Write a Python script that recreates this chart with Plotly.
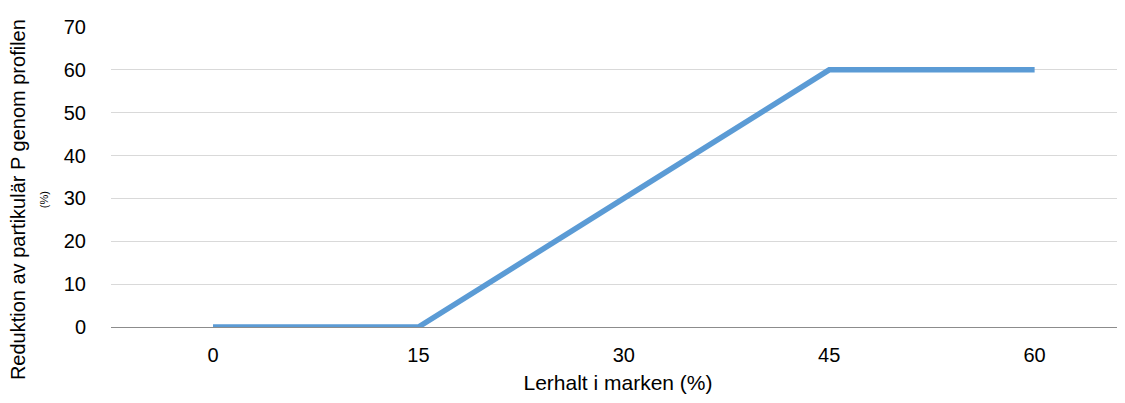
import plotly.graph_objects as go

x_vals = [0, 15, 30, 45, 60]
y_vals = [0, 0, 30, 60, 60]
x_ticks = [0, 15, 30, 45, 60]
y_ticks = [0, 10, 20, 30, 40, 50, 60, 70]

FONT = "Liberation Sans Narrow, Arial Narrow, Liberation Sans, Arial, sans-serif"

fig = go.Figure()
fig.add_trace(go.Scatter(
    x=x_vals, y=y_vals, mode="lines",
    line=dict(color="#5B9BD5", width=5.5),
    showlegend=False,
))

# page has an 8px body margin; figure drawn 1117x395 so it fills the window
fig.update_layout(
    width=1117, height=395,
    margin=dict(l=103, r=0, t=19, b=76),
    paper_bgcolor="white", plot_bgcolor="white",
    font=dict(family=FONT, size=20, color="#000000"),
    xaxis=dict(
        range=[-7.45, 66.6], tickvals=x_ticks, ticktext=[str(v) for v in x_ticks],
        showgrid=False, zeroline=False, showline=False,
        ticks="", ticklabelstandoff=14,
        title=dict(text="Lerhalt i marken (%)", standoff=10, font=dict(size=21)),
    ),
    yaxis=dict(
        range=[0, 70], tickvals=y_ticks,
        showgrid=True, gridcolor="#D9D9D9", gridwidth=1.3,
        zeroline=True, zerolinecolor="#8C8C8C", zerolinewidth=1.3,
        showline=False, ticks="", ticklabelstandoff=24,
    ),
)

# plot area: page x 111..1125, page y 27..327
fig.add_annotation(
    text="Reduktion av partikulär P genom profilen", xref="paper", yref="paper",
    x=-0.0917, y=0.423, showarrow=False, textangle=-90,
    font=dict(size=20, color="#000000"), xanchor="center", yanchor="middle",
)
fig.add_annotation(
    text="(%)", xref="paper", yref="paper", x=-0.066, y=0.423,
    showarrow=False, textangle=-90, font=dict(size=11, color="#000000"),
    xanchor="center", yanchor="middle",
)

fig.write_html("out.html")
